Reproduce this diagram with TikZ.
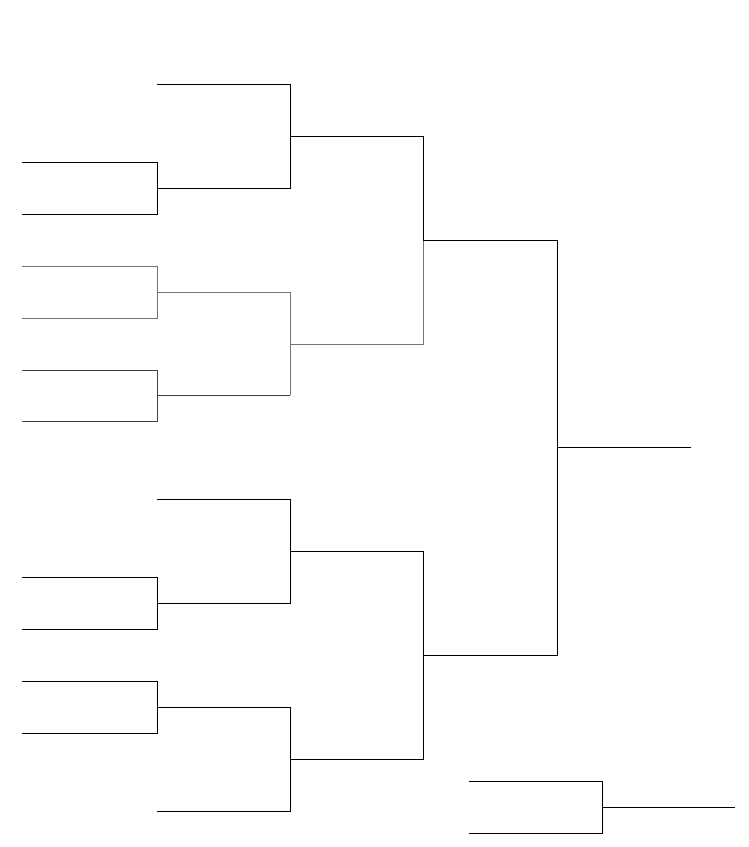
\documentclass[tikz,border=0pt]{standalone}
\begin{document}
\begin{tikzpicture}[x=1pt,y=-1pt,
  br/.style={draw=black,line width=0.9pt,line cap=rect},
  brgray/.style={draw=black!55,line width=0.9pt,line cap=rect},
  brdark/.style={draw=black!75,line width=0.9pt,line cap=rect}]
\useasboundingbox[fill=white] (0,0) rectangle (748,847);
% x columns
\def\xa{22}\def\xb{157}\def\xc{290}\def\xd{423}\def\xe{557}\def\xf{691}
% round 1 pairs
\coordinate (a1) at (\xa,162); \coordinate (b1) at (\xb,162);
\coordinate (a2) at (\xa,214); \coordinate (b2) at (\xb,214);
\coordinate (a3) at (\xa,266); \coordinate (b3) at (\xb,266);
\coordinate (a4) at (\xa,318); \coordinate (b4) at (\xb,318);
\coordinate (a5) at (\xa,370); \coordinate (b5) at (\xb,370);
\coordinate (a6) at (\xa,421); \coordinate (b6) at (\xb,421);
\coordinate (a7) at (\xa,577); \coordinate (b7) at (\xb,577);
\coordinate (a8) at (\xa,629); \coordinate (b8) at (\xb,629);
\coordinate (a9) at (\xa,681); \coordinate (b9) at (\xb,681);
\coordinate (a10) at (\xa,733); \coordinate (b10) at (\xb,733);
% round 2
\coordinate (c1) at (\xb,84);  \coordinate (d1) at (\xc,84);
\coordinate (c2) at (\xb,188); \coordinate (d2) at (\xc,188);
\coordinate (c3) at (\xb,292); \coordinate (d3) at (\xc,292);
\coordinate (c4) at (\xb,395); \coordinate (d4) at (\xc,395);
\coordinate (c5) at (\xb,499); \coordinate (d5) at (\xc,499);
\coordinate (c6) at (\xb,603); \coordinate (d6) at (\xc,603);
\coordinate (c7) at (\xb,707); \coordinate (d7) at (\xc,707);
\coordinate (c8) at (\xb,811); \coordinate (d8) at (\xc,811);
% round 3
\coordinate (e1) at (\xc,136); \coordinate (f1) at (\xd,136);
\coordinate (e2) at (\xc,344); \coordinate (f2) at (\xd,344);
\coordinate (e3) at (\xc,551); \coordinate (f3) at (\xd,551);
\coordinate (e4) at (\xc,759); \coordinate (f4) at (\xd,759);
% round 4
\coordinate (g1) at (\xd,240); \coordinate (h1) at (\xe,240);
\coordinate (g2) at (\xd,655); \coordinate (h2) at (\xe,655);
% final
\coordinate (w1) at (\xe,447); \coordinate (w2) at (\xf,447);
% third place
\coordinate (p1) at (469,781); \coordinate (q1) at (602,781);
\coordinate (p2) at (469,833); \coordinate (q2) at (602,833);
\coordinate (r1) at (602,807); \coordinate (r2) at (735,807);

% top group (black)
\draw[br] (a1) -- (b1) -- (b2) -- (a2);
\draw[br] (c1) -- (d1) -- (d2) -- (c2);
\draw[br] (e1) -- (f1) -- (g1);
% middle group (gray)
\draw[brgray] (a3) -- (b3) -- (b4) -- (a4);
\draw[brgray] (c3) -- (d3) -- (d4);
\draw[brgray] (e2) -- (f2) -- (g1);
\draw[brdark] (a5) -- (b5) -- (b6) -- (a6);
\draw[brdark] (c4) -- (d4);
% lower half
\draw[br] (a7) -- (b7) -- (b8) -- (a8);
\draw[br] (a9) -- (b9) -- (b10) -- (a10);
\draw[br] (c5) -- (d5) -- (d6) -- (c6);
\draw[br] (c7) -- (d7) -- (d8) -- (c8);
\draw[br] (e3) -- (f3) -- (f4) -- (e4);
\draw[br] (g1) -- (h1) -- (h2) -- (g2);
\draw[br] (w1) -- (w2);
\draw[br] (p1) -- (q1) -- (q2) -- (p2);
\draw[br] (r1) -- (r2);
\end{tikzpicture}
\end{document}
